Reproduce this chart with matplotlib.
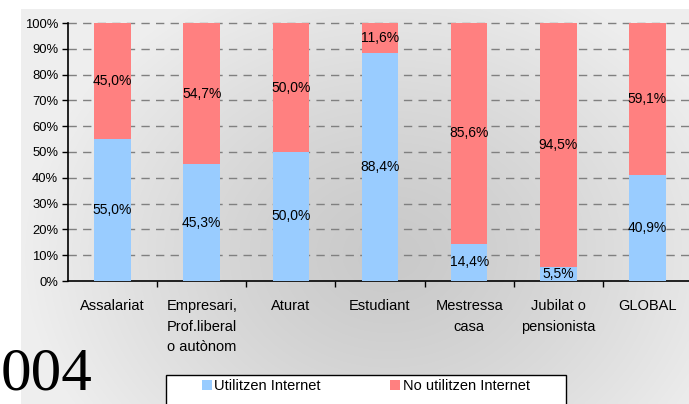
import numpy as np
import matplotlib
matplotlib.use("Agg")
import matplotlib.pyplot as plt
from matplotlib.patches import Rectangle

categories = ["Assalariat", "Empresari,\nProf.liberal\no autònom", "Aturat", "Estudiant",
              "Mestressa\ncasa", "Jubilat o\npensionista", "GLOBAL"]
utilitzen = [55.0, 45.3, 50.0, 88.4, 14.4, 5.5, 40.9]
no_utilitzen = [45.0, 54.7, 50.0, 11.6, 85.6, 94.5, 59.1]
series_names = ["Utilitzen Internet", "No utilitzen Internet"]
yticks = [0, 10, 20, 30, 40, 50, 60, 70, 80, 90, 100]
year_text = "004"

plt.rcParams['font.family'] = ['Liberation Sans', 'DejaVu Sans']
W, H = 689, 404
fig = plt.figure(figsize=(W/100, H/100), dpi=100)
fig.patch.set_facecolor('white')

# gradient background
bg = fig.add_axes([21/W, 0, 1 - 21/W, (H - 9)/H])
bg.set_axis_off()
ny, nx = 200, 340
yy, xx = np.mgrid[0:ny, 0:nx]
cx, cy = 0.55*nx, 0.62*ny
d = np.sqrt(((xx - cx)/(0.55*nx))**2 + ((yy - cy)/(0.75*ny))**2)
d = np.clip(d, 0, 1)
val = 0.79 + (0.935 - 0.79)*d**1.3
img = np.dstack([val, val, val])
bg.imshow(img, aspect='auto', extent=[0, 1, 0, 1], interpolation='bilinear')
bg.set_xlim(0, 1); bg.set_ylim(0, 1)

left = 68/W
bottom = (H - 281)/H
height = 258/H
width = (692 - 68)/W
ax = fig.add_axes([left, bottom, width, height])
ax.patch.set_alpha(0)

x = np.arange(len(categories))
bw = 0.41
b1 = ax.bar(x, utilitzen, bw, color='#99ccff', zorder=3, label=series_names[0])
b2 = ax.bar(x, no_utilitzen, bw, bottom=utilitzen, color='#ff8080', zorder=3, label=series_names[1])

def fmt(v):
    return f"{v:.1f}%".replace('.', ',')

for i in range(len(categories)):
    ax.text(x[i], utilitzen[i]/2, fmt(utilitzen[i]), ha='center', va='center', fontsize=10, zorder=5)
    ax.text(x[i], utilitzen[i] + no_utilitzen[i]/2, fmt(no_utilitzen[i]), ha='center', va='center', fontsize=10, zorder=5)

ax.set_xlim(-0.5, len(categories) - 0.5)
ax.set_ylim(0, 100)
ax.set_yticks(yticks)
ax.set_yticklabels([f"{t}%" for t in yticks], fontsize=9.4)
for t in yticks[1:]:
    ax.axhline(t, color='#808080', lw=1.0, ls=(0, (6, 4.5)), zorder=1, clip_on=False)

ax.set_xticks(x)
ax.set_xticklabels(categories, fontsize=10.5, linespacing=1.6, va='top')
ax.set_xticks(np.arange(0.5, len(categories) - 0.5, 1), minor=True)
ax.tick_params(axis='x', which='major', length=0, pad=13)
ax.tick_params(axis='x', which='minor', length=4, width=1, direction='out', color='black')
ax.tick_params(axis='y', length=4, width=1, direction='out', pad=3)
for s in ['top', 'right']:
    ax.spines[s].set_visible(False)
ax.spines['left'].set_linewidth(1.2)
ax.spines['bottom'].set_linewidth(1.2)

# legend box
lx0, lx1, ly0 = 166/W, 566/W, (H - 375)/H
fig.patches.append(Rectangle((lx0, -0.02), lx1 - lx0, ly0 + 0.02, transform=fig.transFigure,
                             facecolor='white', edgecolor='black', lw=1.0, zorder=2))
fig.legend(handles=[b1, b2], labels=series_names, loc='upper left',
           bbox_to_anchor=(202/W, (H - 379)/H), ncol=2,
           frameon=False, fontsize=10.5, handlelength=0.7, handleheight=0.7,
           handletextpad=0.15, borderpad=0.0, borderaxespad=0.0, columnspacing=4.75)

fig.text(1/W, 1/H, year_text, fontsize=44, family=['Liberation Serif', 'DejaVu Serif'],
         ha='left', va='bottom', zorder=10)

fig.savefig("out.png", dpi=100)
